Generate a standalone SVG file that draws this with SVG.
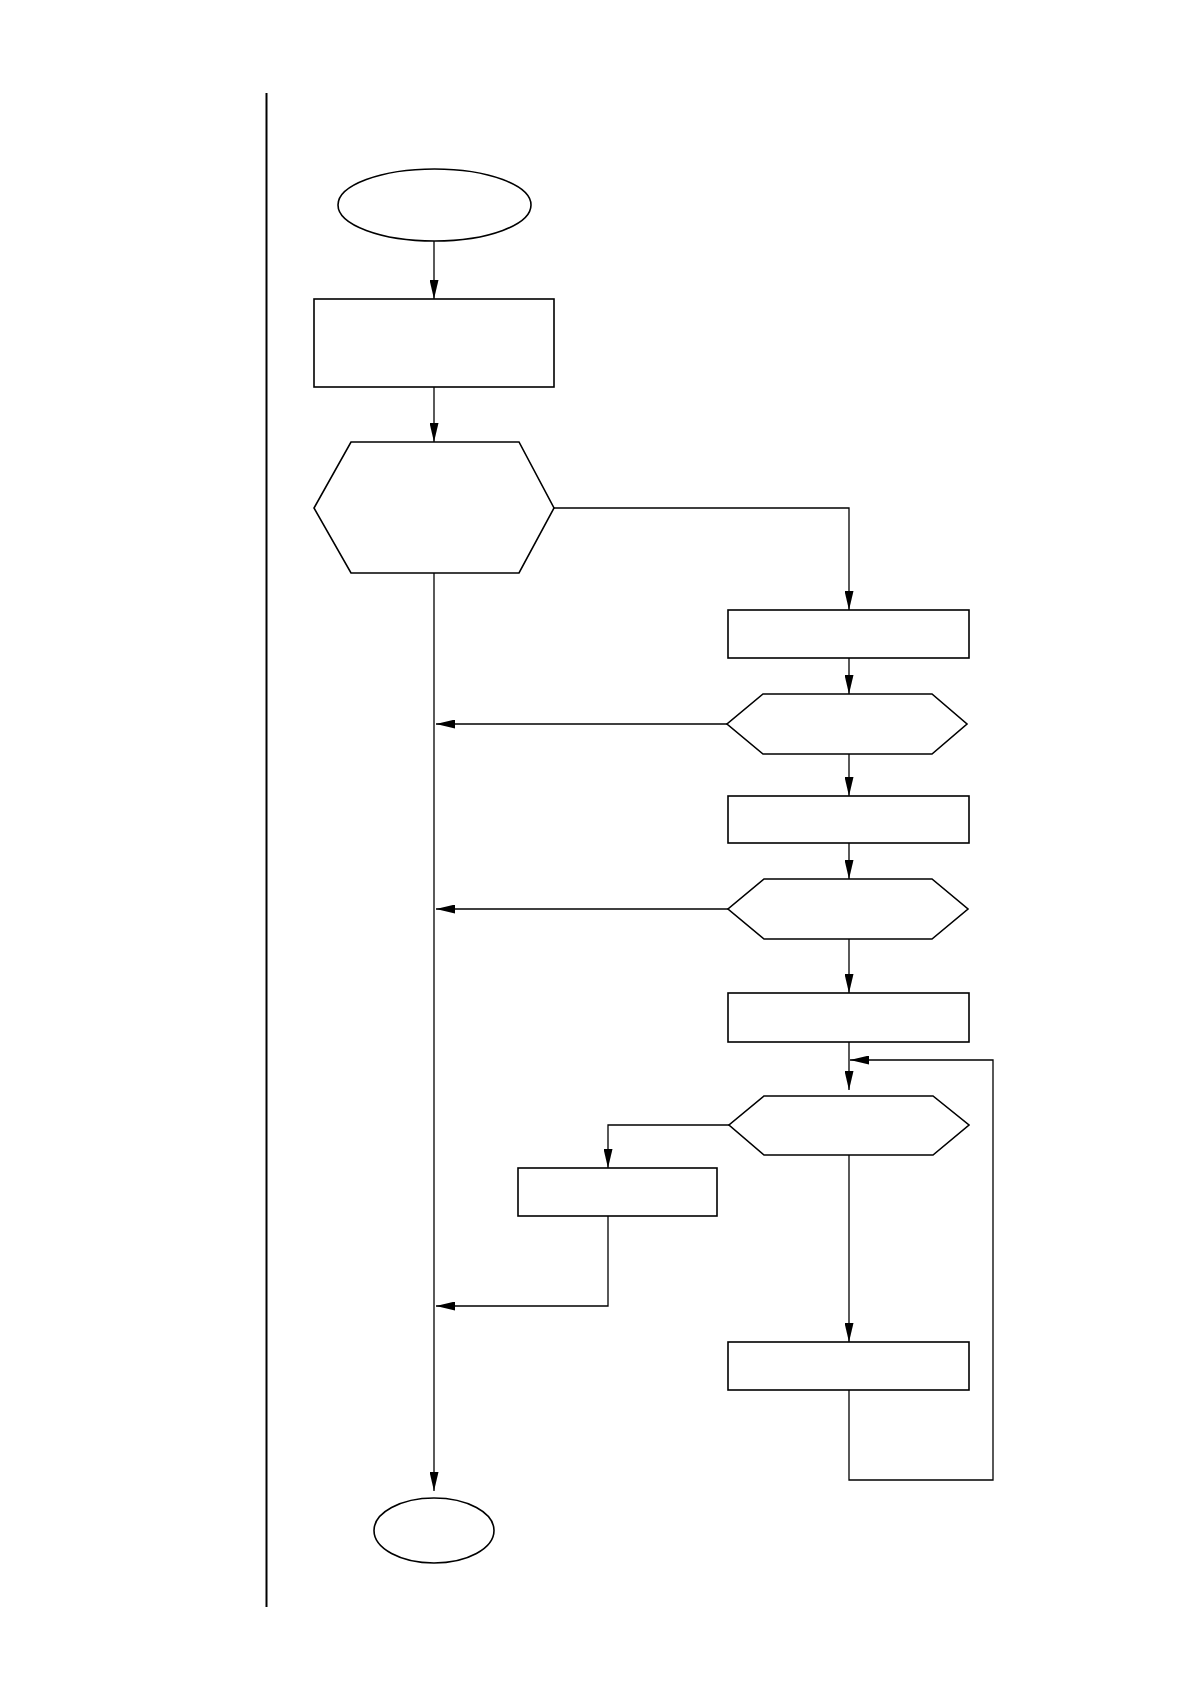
<svg xmlns="http://www.w3.org/2000/svg" width="1190" height="1684" viewBox="0 0 1190 1684">
<style>
.n{fill:#fff;stroke:#000;stroke-width:1.6}
.c{fill:none;stroke:#000;stroke-width:1.3}
</style>
<defs>
<marker id="a" markerUnits="userSpaceOnUse" markerWidth="19" markerHeight="9" refX="19" refY="4.5" orient="auto">
<path d="M0,0 L19,4.5 L0,9 z" fill="#000"/>
</marker>
</defs>
<rect width="1190" height="1684" fill="#fff"/>
<line x1="266.5" y1="93" x2="266.5" y2="1607" stroke="#000" stroke-width="2"/>
<g id="connectors">
<line class="c" x1="434" y1="241" x2="434" y2="299" marker-end="url(#a)"/>
<line class="c" x1="434" y1="387" x2="434" y2="442" marker-end="url(#a)"/>
<polyline class="c" points="554,508 849,508 849,610" marker-end="url(#a)"/>
<line class="c" x1="434" y1="573" x2="434" y2="1491" marker-end="url(#a)"/>
<line class="c" x1="849" y1="658" x2="849" y2="694" marker-end="url(#a)"/>
<line class="c" x1="727" y1="724" x2="436" y2="724" marker-end="url(#a)"/>
<line class="c" x1="849" y1="754" x2="849" y2="796" marker-end="url(#a)"/>
<line class="c" x1="849" y1="843" x2="849" y2="879" marker-end="url(#a)"/>
<line class="c" x1="728" y1="909" x2="436" y2="909" marker-end="url(#a)"/>
<line class="c" x1="849" y1="939" x2="849" y2="993" marker-end="url(#a)"/>
<line class="c" x1="849" y1="1042" x2="849" y2="1090" marker-end="url(#a)"/>
<polyline class="c" points="729,1125 608,1125 608,1168" marker-end="url(#a)"/>
<polyline class="c" points="608,1216 608,1306 436,1306" marker-end="url(#a)"/>
<line class="c" x1="849" y1="1155" x2="849" y2="1342" marker-end="url(#a)"/>
<polyline class="c" points="849,1390 849,1480 993,1480 993,1060 850,1060" marker-end="url(#a)"/>
</g>
<g id="start"><ellipse class="n" cx="434.5" cy="205" rx="96.5" ry="36"/></g>
<g id="process1"><rect class="n" x="314" y="299" width="240" height="88"/></g>
<g id="decision1"><polygon class="n" points="351,442 519,442 554,508 519,573 351,573 314,508"/></g>
<g id="process2"><rect class="n" x="728" y="610" width="241" height="48"/></g>
<g id="decision2"><polygon class="n" points="763,694 932,694 967,724 932,754 763,754 727,724"/></g>
<g id="process3"><rect class="n" x="728" y="796" width="241" height="47"/></g>
<g id="decision3"><polygon class="n" points="764,879 932,879 968,909 932,939 764,939 728,909"/></g>
<g id="process4"><rect class="n" x="728" y="993" width="241" height="49"/></g>
<g id="decision4"><polygon class="n" points="764,1096 933,1096 969,1125 933,1155 764,1155 729,1125"/></g>
<g id="process5"><rect class="n" x="518" y="1168" width="199" height="48"/></g>
<g id="process6"><rect class="n" x="728" y="1342" width="241" height="48"/></g>
<g id="end"><ellipse class="n" cx="434" cy="1530.5" rx="60" ry="32.5"/></g>
</svg>
